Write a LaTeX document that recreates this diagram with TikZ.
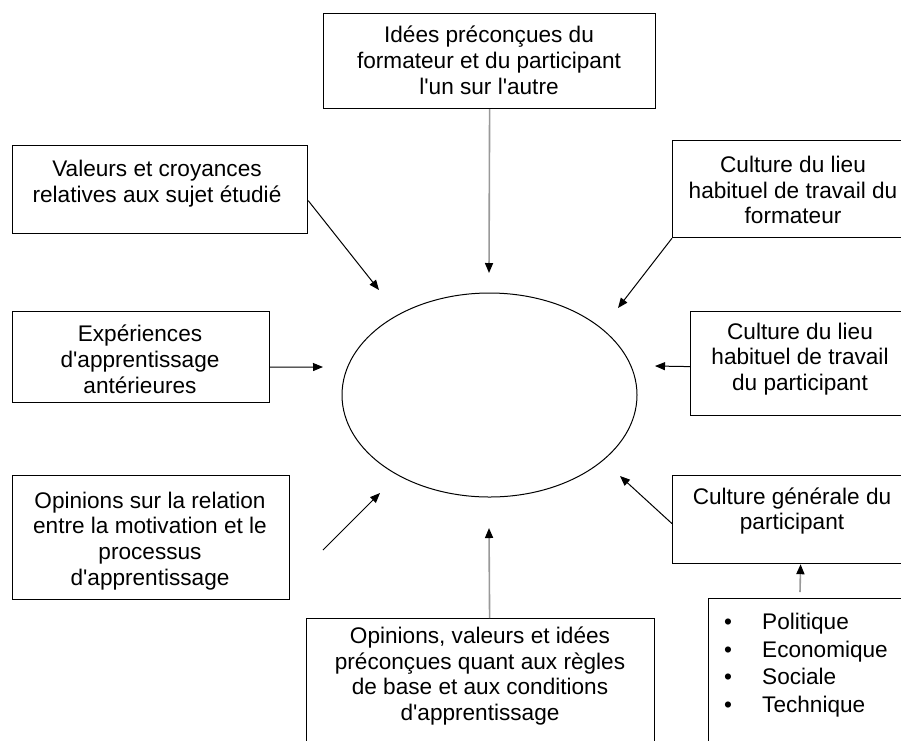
\documentclass[tikz,border=0pt]{standalone}
\usepackage{fontspec}
\setmainfont{Liberation Sans}[Ligatures=TeXOff]
\usetikzlibrary{arrows.meta}
\begin{document}
\begin{tikzpicture}[x=1pt,y=-1pt,
  frame/.style={draw, line width=1.2pt, inner sep=0pt, anchor=north west},
  label/.style={align=center, inner sep=0pt, font=\fontsize{22.6}{25.8}\selectfont},
  conn/.style={line width=1pt, -{Triangle[length=10pt,width=8pt]}},
  gconn/.style={line width=1.6pt, draw=black!40, -{Triangle[length=10pt,width=8pt,color=black]}}]
\useasboundingbox (0,0) rectangle (901,740);
\clip (0,0) rectangle (901,740);
\fill[white] (0,0) rectangle (901,740);

% central ellipse
\draw[line width=1pt] (489.5,395) ellipse [x radius=147.5, y radius=102];
\coordinate (core) at (489.5,395);

% boxes
\node[frame, minimum width=332pt, minimum height=95pt] (topbox) at (323,13) {};
\node[frame, minimum width=295pt, minimum height=88pt] (valbox) at (12,145) {};
\node[frame, minimum width=240pt, minimum height=97pt] (formbox) at (672,140) {};
\node[frame, minimum width=257pt, minimum height=91pt] (expbox) at (12,311) {};
\node[frame, minimum width=222pt, minimum height=104pt] (partbox) at (690,311) {};
\node[frame, minimum width=277pt, minimum height=124pt] (relbox) at (12,475) {};
\node[frame, minimum width=348pt, minimum height=132pt] (botbox) at (306,618) {};
\node[frame, minimum width=240pt, minimum height=88pt] (genbox) at (672,475) {};
\node[frame, minimum width=204pt, minimum height=152pt] (bulbox) at (708,598) {};

% texts
\node[label] (toptext) at (489,60) {Idées préconçues du\\formateur et du participant\\l'un sur l'autre};
\node[label] (valtext) at (157,184) {Valeurs et croyances\\relatives aux sujet étudié};
\node[label] (formtext) at (793,190) {Culture du lieu\\habituel de travail du\\formateur};
\node[label] (exptext) at (140,359) {Expériences\\d'apprentissage\\antérieures};
\node[label] (parttext) at (800,359) {Culture du lieu\\habituel de travail\\du participant};
\node[label] (reltext) at (150,541) {Opinions sur la relation\\entre la motivation et le\\processus\\d'apprentissage};
\node[label] (bottext) at (480,676) {Opinions, valeurs et idées\\préconçues quant aux règles\\de base et aux conditions\\d'apprentissage};
\node[label] (gentext) at (792,511) {Culture générale du\\participant};
\node[label, align=left, anchor=west, font=\fontsize{22.6}{27.5}\selectfont] (bultext) at (724,665)
  {\makebox[38pt][l]{\textbullet}Politique\\\makebox[38pt][l]{\textbullet}Economique\\\makebox[38pt][l]{\textbullet}Sociale\\\makebox[38pt][l]{\textbullet}Technique};

% connector end points
\coordinate (e1) at (489,273);
\coordinate (e2) at (379,290);
\coordinate (e3) at (618,308);
\coordinate (e4) at (323,367);
\coordinate (e5) at (655,366);
\coordinate (s6) at (323,550);
\coordinate (e6) at (380,493);
\coordinate (e7) at (489,528);
\coordinate (e8) at (620,476);
\coordinate (s9) at (800,592);

% connectors
\draw[gconn] (topbox.south) -- (e1);
\draw[conn] ([yshift=-11pt]valbox.east) -- (e2);
\draw[conn] (formbox.south west) -- (e3);
\draw[conn] ([yshift=-10pt]expbox.east) -- (e4);
\draw[conn] ([yshift=-3pt]partbox.west) -- (e5);
\draw[conn] (s6) -- (e6);
\draw[gconn] ([xshift=9pt]botbox.north) -- (e7);
\draw[conn] ([yshift=-4pt]genbox.west) -- (e8);
\draw[gconn] (s9) -- ([xshift=8pt]genbox.south);
\end{tikzpicture}
\end{document}
